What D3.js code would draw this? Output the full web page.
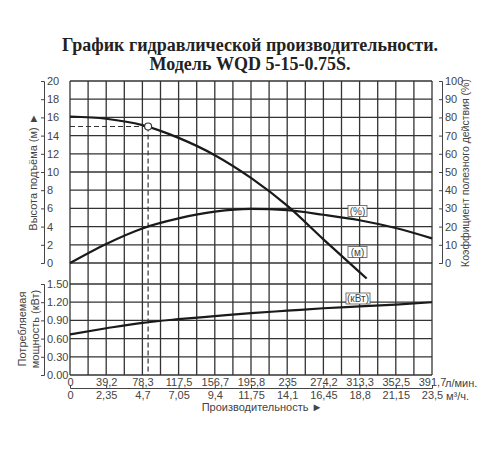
<!DOCTYPE html>
<html>
<head>
<meta charset="utf-8">
<script src="https://cdn.jsdelivr.net/npm/d3@7"></script>
<style>
    body { margin: 0; background: #fff; }
    .axis text { font-family: "Liberation Sans", Arial, sans-serif; font-size: 11px; fill: #444; }
    .axis path, .axis line { stroke: #444; stroke-width: 1; }
    .label { font-family: "Liberation Sans", Arial, sans-serif; font-size: 11px; fill: #444; }
</style>
</head>
<body>
<div id="chart"></div>
<script>
// flow points (l/min) for efficiency and power
var flowLpm = [0, 39.2, 78.3, 117.5, 156.7, 195.8, 235, 274.2, 313.3, 352.5, 391.7];
var efficiency = [0, 10.5, 19, 24.5, 28.2, 29.7, 29, 26.5, 23.5, 19.2, 13.5];
var power = [0.67, 0.77, 0.86, 0.92, 0.97, 1.02, 1.06, 1.10, 1.13, 1.16, 1.20];

// head curve stops earlier
var headFlow = [0, 39.2, 78.3, 117.5, 156.7, 195.8, 235, 274.2, 313.3, 321];
var head = [16.1, 15.85, 15.15, 13.75, 11.85, 9.35, 6.3, 2.6, -1.0, -1.7];

// duty point
var dutyFlow = 84.5;
var dutyHead = 15;

var lpmTicks = [0, 39.2, 78.3, 117.5, 156.7, 195.8, 235, 274.2, 313.3, 352.5, 391.7];
var m3hTicks = [0, 2.35, 4.7, 7.05, 9.4, 11.75, 14.1, 16.45, 18.8, 21.15, 23.5];
var headTicks = [0, 2, 4, 6, 8, 10, 12, 14, 16, 18, 20];
var effTicks = [0, 10, 20, 30, 40, 50, 60, 70, 80, 90, 100];
var powerTicks = [0, 0.3, 0.6, 0.9, 1.2, 1.5];

var width = 500;
var height = 450;

var left = 70, right = 432;
var topY = 81, headZero = 263, powTop = 284, powZero = 375;

var xScale = d3.scaleLinear().domain([0, 391.7]).range([left, right]);
var x2Scale = d3.scaleLinear().domain([0, 23.5]).range([left, right]);
var yHead = d3.scaleLinear().domain([0, 20]).range([headZero, topY]);
var yEff = d3.scaleLinear().domain([0, 100]).range([headZero, topY]);
var yPow = d3.scaleLinear().domain([0, 1.5]).range([powZero, powTop]);

var svg = d3.select('#chart')
    .append('svg')
    .attr('width', width)
    .attr('height', height);

// title
var title = svg.append('g')
    .style('font-family', '"Liberation Serif", "Times New Roman", serif')
    .style('font-weight', 'bold')
    .style('font-size', '18px')
    .attr('fill', '#222');
title.append('text').attr('x', 250).attr('y', 51).attr('text-anchor', 'middle')
    .text('График гидравлической производительности.');
title.append('text').attr('x', 250).attr('y', 70).attr('text-anchor', 'middle')
    .text('Модель WQD 5-15-0.75S.');

// grid
var grid = svg.append('g')
    .attr('stroke', '#333')
    .attr('stroke-width', 1.3);

var gridCols = d3.range(0, 21).map(function (i) { return i * 391.7 / 20; });

grid.selectAll('line.v')
    .data(gridCols)
    .enter()
    .append('line')
    .attr('class', 'v')
    .attr('x1', function (d) { return xScale(d); })
    .attr('x2', function (d) { return xScale(d); })
    .attr('y1', topY)
    .attr('y2', powZero);

grid.selectAll('line.h')
    .data(headTicks)
    .enter()
    .append('line')
    .attr('class', 'h')
    .attr('x1', left)
    .attr('x2', right)
    .attr('y1', function (d) { return yHead(d); })
    .attr('y2', function (d) { return yHead(d); });

grid.selectAll('line.hp')
    .data(powerTicks)
    .enter()
    .append('line')
    .attr('class', 'hp')
    .attr('x1', left)
    .attr('x2', right)
    .attr('y1', function (d) { return yPow(d); })
    .attr('y2', function (d) { return yPow(d); });

// axes
var leftLabels = function (g) {
    g.selectAll('text').attr('x', 3).style('text-anchor', 'start');
};

svg.append('g')
    .attr('class', 'axis')
    .attr('transform', 'translate(44, 0)')
    .call(d3.axisLeft(yHead).tickValues(headTicks).tickSize(3).tickFormat(d3.format('d')))
    .call(leftLabels);

svg.append('g')
    .attr('class', 'axis')
    .attr('transform', 'translate(44, 0)')
    .call(d3.axisLeft(yPow).tickValues(powerTicks).tickSize(3).tickFormat(d3.format('.2f')))
    .call(leftLabels);

svg.append('g')
    .attr('class', 'axis')
    .attr('transform', 'translate(442, 0)')
    .call(d3.axisLeft(yEff).tickValues(effTicks).tickSize(3).tickFormat(d3.format('d')))
    .call(leftLabels);

var comma = function (d) { return String(d).replace('.', ','); };

var lpmAxis = svg.append('g')
    .attr('class', 'axis')
    .attr('transform', 'translate(0, ' + powZero + ')')
    .call(d3.axisBottom(xScale).tickValues(lpmTicks).tickSize(0).tickPadding(3).tickFormat(comma));
lpmAxis.select('.domain').remove();

svg.append('g')
    .attr('class', 'axis')
    .attr('transform', 'translate(0, 388)')
    .call(d3.axisBottom(x2Scale).tickValues(m3hTicks).tickSize(-3).tickPadding(3).tickFormat(comma));

svg.append('text').attr('class', 'label').attr('x', 445).attr('y', 387).text('л/мин.');
svg.append('text').attr('class', 'label').attr('x', 446).attr('y', 400).text('м³/ч.');

svg.append('text')
    .attr('class', 'label')
    .attr('x', 262)
    .attr('y', 411)
    .style('text-anchor', 'middle')
    .text('Производительность ►');

// axis titles
svg.append('text')
    .attr('class', 'label')
    .attr('transform', 'translate(37, 172) rotate(-90)')
    .style('text-anchor', 'middle')
    .text('Высота подъёма (м) ►');

svg.append('text')
    .attr('class', 'label')
    .attr('transform', 'translate(26, 329) rotate(-90)')
    .style('text-anchor', 'middle')
    .text('Потребляемая');

svg.append('text')
    .attr('class', 'label')
    .attr('transform', 'translate(39, 329) rotate(-90)')
    .style('text-anchor', 'middle')
    .text('мощность (кВт)');

svg.append('text')
    .attr('class', 'label')
    .attr('transform', 'translate(469, 173) rotate(-90)')
    .style('text-anchor', 'middle')
    .style('font-size', '10.5px')
    .text('Коэффициент полезного действия (%)');

// dashed duty lines
var dash = svg.append('g')
    .attr('stroke', '#333')
    .attr('stroke-width', 1.2)
    .attr('stroke-dasharray', '5,3');
dash.append('line')
    .attr('x1', xScale(dutyFlow)).attr('x2', xScale(dutyFlow))
    .attr('y1', yHead(dutyHead)).attr('y2', powZero);
dash.append('line')
    .attr('x1', left).attr('x2', xScale(dutyFlow))
    .attr('y1', yHead(dutyHead)).attr('y2', yHead(dutyHead));

// curves
var addCurve = function (xs, ys, yScale) {
    var line = d3.line()
        .x(function (d) { return xScale(d[0]); })
        .y(function (d) { return yScale(d[1]); })
        .curve(d3.curveMonotoneX);
    return svg.append('path')
        .datum(d3.zip(xs, ys))
        .attr('fill', 'none')
        .attr('stroke', '#1a1a1a')
        .attr('stroke-width', 2.2)
        .attr('d', line);
};

addCurve(headFlow, head, yHead);
addCurve(flowLpm, efficiency, yEff);
addCurve(flowLpm, power, yPow);

svg.append('circle')
    .attr('cx', xScale(dutyFlow))
    .attr('cy', yHead(dutyHead))
    .attr('r', 3.5)
    .attr('fill', '#fff')
    .attr('stroke', '#333')
    .attr('stroke-width', 1.2);

// curve tags
var addTag = function (cx, cy, w, txt) {
    var g = svg.append('g');
    g.append('rect')
        .attr('x', cx - w / 2).attr('y', cy - 5.5)
        .attr('width', w).attr('height', 11)
        .attr('fill', '#fff')
        .attr('stroke', '#555')
        .attr('stroke-width', 0.8);
    g.append('text')
        .attr('class', 'label')
        .attr('x', cx).attr('y', cy + 3.5)
        .style('text-anchor', 'middle')
        .style('font-size', '10px')
        .text(txt);
};

addTag(357.5, 211, 19, '(%)');
addTag(357.5, 252, 19, '(м)');
addTag(358, 298.5, 24, '(кВт)');
</script>
</body>
</html>
